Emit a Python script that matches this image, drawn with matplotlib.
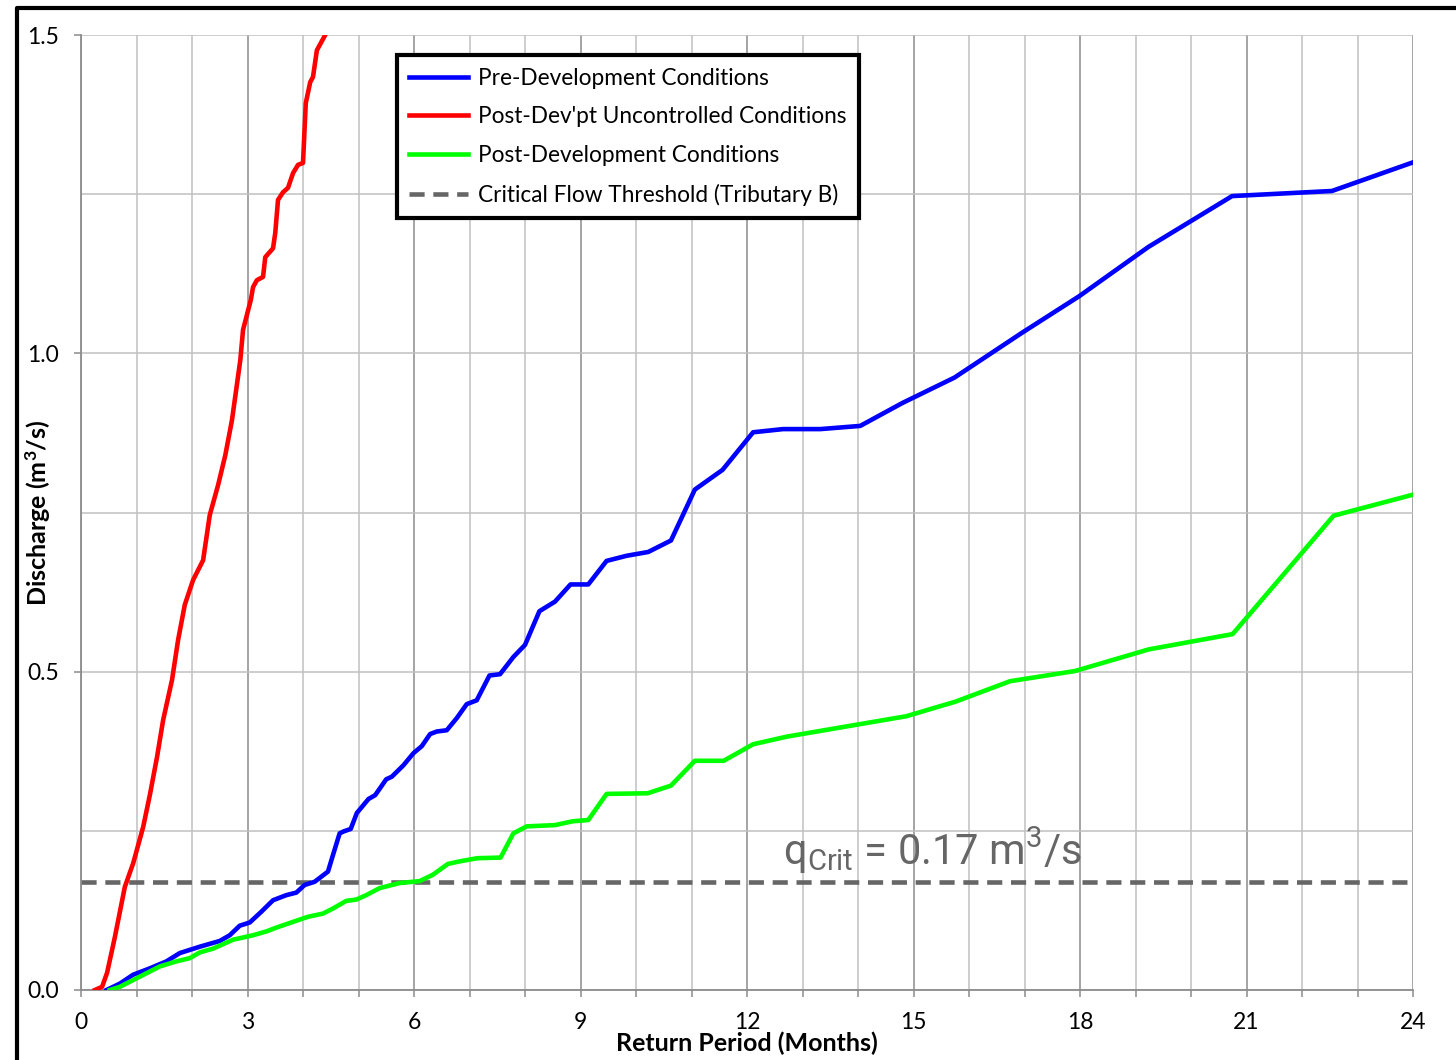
import matplotlib
matplotlib.use('Agg')
import matplotlib.pyplot as plt
from matplotlib.lines import Line2D
from matplotlib.ticker import MultipleLocator
from matplotlib import font_manager
import numpy as np

# return period (months) and discharge (m3/s)
pre_months = [0.46, 0.70, 0.94, 1.24, 1.54, 1.78, 2.14, 2.50, 2.68, 2.86, 3.04, 3.25, 3.46, 3.70,
              3.88, 4.03, 4.21, 4.45, 4.54, 4.66, 4.73, 4.86, 4.97, 5.18, 5.30, 5.50, 5.60, 5.81,
              5.99, 6.14, 6.29, 6.41, 6.59, 6.77, 6.95, 7.13, 7.36, 7.55, 7.79, 8.00, 8.26, 8.54,
              8.82, 9.14, 9.47, 9.83, 10.22, 10.63, 11.06, 11.56, 12.11, 12.65, 13.32, 14.04,
              14.80, 15.74, 16.95, 17.99, 19.23, 20.74, 22.54, 24.0]
pre_q = [0.0, 0.010, 0.024, 0.034, 0.045, 0.058, 0.068, 0.077, 0.086, 0.101, 0.106, 0.123, 0.141,
         0.149, 0.153, 0.165, 0.170, 0.186, 0.212, 0.246, 0.249, 0.253, 0.278, 0.300, 0.306, 0.331,
         0.335, 0.353, 0.372, 0.383, 0.402, 0.406, 0.408, 0.427, 0.449, 0.455, 0.494, 0.496, 0.523,
         0.542, 0.595, 0.610, 0.637, 0.637, 0.674, 0.682, 0.688, 0.706, 0.786, 0.817, 0.876, 0.881,
         0.881, 0.886, 0.922, 0.962, 1.032, 1.090, 1.167, 1.247, 1.255, 1.300]

unc_months = [0.25, 0.38, 0.47, 0.61, 0.79, 0.94, 1.12, 1.24, 1.37, 1.48, 1.64, 1.75, 1.87, 2.02,
              2.20, 2.32, 2.47, 2.60, 2.72, 2.87, 2.92, 3.06, 3.10, 3.17, 3.28, 3.32, 3.46, 3.50,
              3.55, 3.64, 3.73, 3.82, 3.91, 4.00, 4.05, 4.13, 4.18, 4.25, 4.40, 4.60]
unc_q = [0.0, 0.005, 0.027, 0.083, 0.162, 0.199, 0.256, 0.306, 0.366, 0.424, 0.487, 0.550, 0.605,
         0.644, 0.675, 0.746, 0.793, 0.840, 0.895, 0.989, 1.037, 1.084, 1.104, 1.115, 1.120, 1.151,
         1.165, 1.189, 1.241, 1.253, 1.260, 1.283, 1.296, 1.299, 1.393, 1.426, 1.434, 1.476, 1.500,
         1.550]

post_months = [0.52, 0.70, 1.06, 1.42, 1.72, 1.96, 2.14, 2.38, 2.74, 3.10, 3.34, 3.52, 3.82, 4.09,
               4.36, 4.54, 4.78, 4.96, 5.14, 5.38, 5.74, 6.10, 6.34, 6.61, 6.82, 7.14, 7.56, 7.79,
               8.03, 8.54, 8.86, 9.14, 9.47, 10.21, 10.63, 11.06, 11.58, 12.11, 12.72, 14.87,
               15.76, 16.74, 17.91, 19.24, 20.75, 22.57, 24.0]
post_q = [0.0, 0.005, 0.021, 0.037, 0.045, 0.050, 0.059, 0.065, 0.079, 0.086, 0.092, 0.098, 0.107,
          0.115, 0.120, 0.128, 0.140, 0.142, 0.149, 0.160, 0.168, 0.171, 0.181, 0.198, 0.202, 0.207,
          0.208, 0.246, 0.257, 0.259, 0.265, 0.267, 0.308, 0.309, 0.321, 0.360, 0.360, 0.386, 0.398,
          0.430, 0.453, 0.485, 0.501, 0.535, 0.559, 0.745, 0.778]

q_crit = 0.17

labels = ["Pre-Development Conditions", "Post-Dev'pt Uncontrolled Conditions",
          "Post-Development Conditions", "Critical Flow Threshold (Tributary B)"]

plt.rcParams['font.family'] = ['Lato', 'DejaVu Sans']
plt.rcParams['mathtext.default'] = 'regular'

# narrow face for the q_crit note if there is one
names = set(f.name for f in font_manager.fontManager.ttflist)
note_font = 'Liberation Sans Narrow' if 'Liberation Sans Narrow' in names else 'Roboto'

fig = plt.figure(figsize=(14.56, 10.6), dpi=100)
ax = fig.add_axes([81/1456, 70/1060, 1332/1456, 955/1060])

lw = 3.3
ax.axhline(q_crit, color='#666666', lw=lw, dashes=(3.3, 1.9), label=labels[3], zorder=2)
ax.plot(pre_months, pre_q, color='#0000ff', lw=lw, label=labels[0], zorder=3)
ax.plot(unc_months, unc_q, color='#ff0000', lw=lw, label=labels[1], zorder=3)
ax.plot(post_months, post_q, color='#00ff00', lw=lw, label=labels[2], zorder=3)

ax.set_xlim(0, 24)
ax.set_ylim(0, 1.5)
ax.xaxis.set_major_locator(MultipleLocator(3))
ax.xaxis.set_minor_locator(MultipleLocator(1))
ax.yaxis.set_major_locator(MultipleLocator(0.5))
ax.yaxis.set_minor_locator(MultipleLocator(0.25))
ax.yaxis.set_major_formatter(plt.FuncFormatter(lambda v, p: f"{v:.1f}"))

ax.grid(which='major', axis='x', color='#8c8c8c', lw=1.1)
ax.grid(which='minor', axis='x', color='#c0c0c0', lw=1.1)
ax.grid(which='both', axis='y', color='#c0c0c0', lw=1.1)
ax.set_axisbelow(True)

for s in ['top', 'right']:
    ax.spines[s].set_visible(False)
for s in ['left', 'bottom']:
    ax.spines[s].set_color('#8c8c8c')
    ax.spines[s].set_linewidth(1.3)

ax.tick_params(axis='both', which='both', direction='out', color='#8c8c8c', length=5, width=1.1,
               labelsize=16.5, pad=11)
ax.tick_params(axis='y', which='minor', length=0)

ax.set_xlabel("Return Period (Months)", fontsize=18, fontweight='bold')
ax.set_ylabel("Discharge (m$^3$/s)", fontsize=18, fontweight='bold')
ax.xaxis.set_label_coords(0.5, -0.043)
ax.yaxis.set_label_coords(-0.021, 0.5)

handles, labs = ax.get_legend_handles_labels()
order = [1, 2, 3, 0]
leg = ax.legend([handles[i] for i in order], [labs[i] for i in order], loc='upper left',
                bbox_to_anchor=(0.237, 0.979), borderaxespad=0, fontsize=16.3, frameon=True,
                fancybox=False, framealpha=1, edgecolor='black', handlelength=2.6,
                labelspacing=0.78, borderpad=0.55, handletextpad=0.45)
leg.get_frame().set_linewidth(3)

ax.text(12.65, 0.218, r"q$_{Crit}$ = 0.17 m$^3$/s", fontsize=30, color='#666666',
        family=note_font, va='center', ha='left')

# thick frame at top and left of the chart area
fig.add_artist(Line2D([17/1456, 17/1456, 1], [0, 1 - 8/1060, 1 - 8/1060], color='black', lw=3,
                      transform=fig.transFigure))

fig.savefig('out.png', dpi=100)
